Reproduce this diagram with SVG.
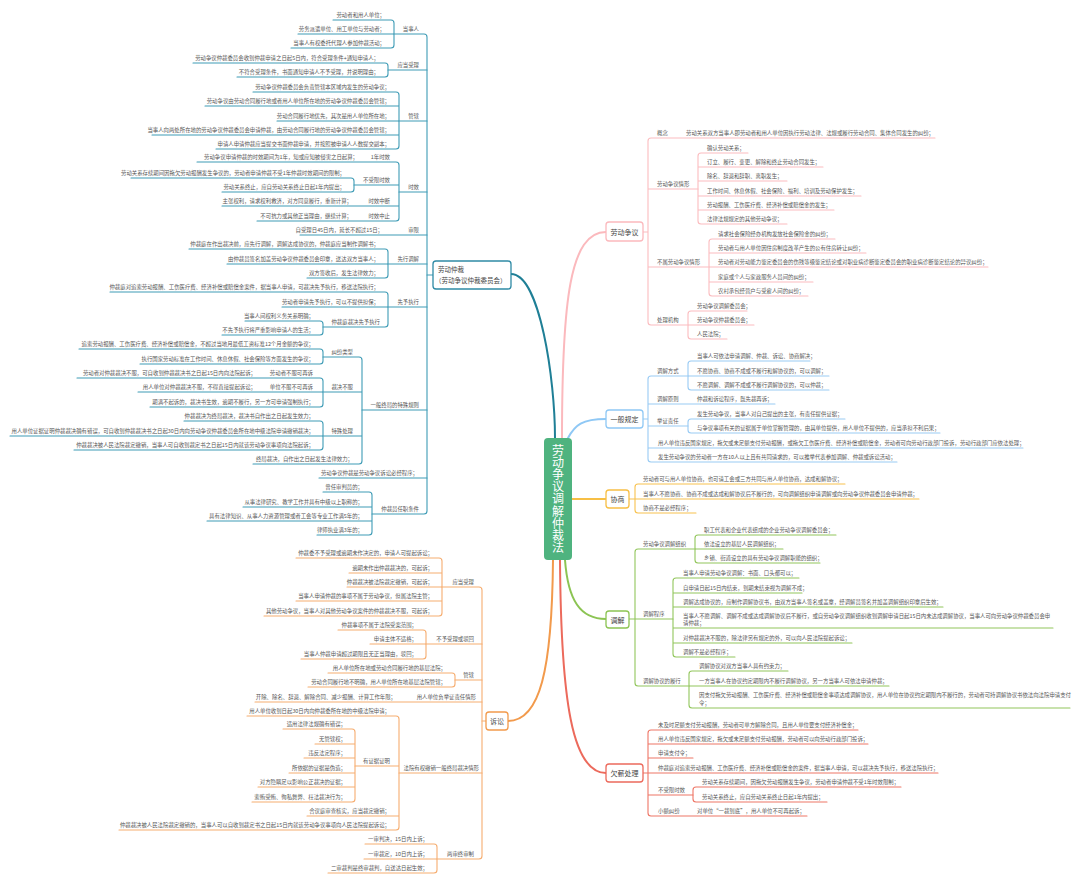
<svg xmlns="http://www.w3.org/2000/svg" width="1080" height="884" viewBox="0 0 1080 884">
<style>
text{font-family:"Noto Sans CJK SC","Noto Sans",sans-serif;fill:#555;font-size:5.4px}
.e{text-anchor:end}
.m{text-anchor:middle}
.k{font-size:7px;fill:#444}
.k2{font-size:6.5px;fill:#444}
.ct{font-size:12px;fill:#fff;letter-spacing:0.2px}
path{fill:none;stroke-width:1.1;stroke-linecap:round}
.main path{stroke-width:2}
.c1 path{stroke:#3f9cb6}
.c2 path{stroke:#f6ad70}
.p path{stroke:#fbbcbf}
.b path{stroke:#99cbf4}
.y path{stroke:#f8c24f}
.g path{stroke:#92c65c}
.r path{stroke:#ee7666}
.box{fill:#fff;stroke-width:1.3}
</style>
<rect width="1080" height="884" fill="#fff"/>

<g id="connectors">
 <g class="main">
  <path d="M555,438 C555,380 540,274 511,274" style="stroke:#1f7f96"/>
  <path d="M562,438 C562,300 570,232 606,232" style="stroke:#fbb9bd"/>
  <path d="M568,438 C575,425 582,419 606,419" style="stroke:#8fc8f5"/>
  <path d="M572,499 H606" style="stroke:#f7bf45"/>
  <path d="M565,560 C568,600 580,619 606,619" style="stroke:#8cc453"/>
  <path d="M560,560 C561,700 572,773 606,773" style="stroke:#ec6a5c"/>
  <path d="M553,560 C552,670 540,721 508,721" style="stroke:#f29a4c"/>
 </g>
 <g class="c1">
  <path d="M394,34 H424 Q427,34 427,37 V511 Q427,514 424,514 H372"/>
  <path d="M388,70 H427 M399,121 H427 M399,192 H427 M300,235 H427 M388,264 H427 M388,307 H427 M362,410 H427 M319,478 H427 M427,275 H433"/>
  <path d="M333,20 H391 Q394,20 394,23 V45 Q394,48 391,48 H291 M298,34 H394"/>
  <path d="M193,63 H385 Q388,63 388,66 V74 Q388,77 385,77 H237"/>
  <path d="M253,92 H396 Q399,92 399,95 V146 Q399,149 396,149 H216 M205,106 H399 M277,121 H399 M152,135 H399"/>
  <path d="M197,162 H396 Q399,162 399,165 V218 Q399,221 396,221 H257 M354,185 H399 M222,206 H399"/>
  <path d="M131,178 H351 Q354,178 354,181 V189 Q354,192 351,192 H222"/>
  <path d="M189,249 H385 Q388,249 388,252 V275 Q388,278 385,278 H307 M227,264 H388"/>
  <path d="M110,292 H385 Q388,292 388,295 V324 Q388,327 385,327 H323 M282,307 H388"/>
  <path d="M245,321 H320 Q323,321 323,324 V332 Q323,335 320,335 H222"/>
  <path d="M323,357 H359 Q362,357 362,360 V461 Q362,464 359,464 H253 M323,392 H362 M323,436 H362"/>
  <path d="M79,349 H320 Q323,349 323,352 V361 Q323,364 320,364 H140"/>
  <path d="M77,378 H320 Q323,378 323,381 V404 Q323,407 320,407 H150 M138,392 H323"/>
  <path d="M184,421 H320 Q323,421 323,424 V447 Q323,450 320,450 H74 M10,436 H323"/>
  <path d="M323,492 H369 Q372,492 372,495 V532 Q372,535 369,535 H317 M243,507 H372 M207,521 H372"/>
 </g>
 <g class="c2">
  <path d="M442,587 H479 Q482,587 482,590 V856 Q482,859 479,859 H437"/>
  <path d="M426,644 H482 M455,680 H482 M255,702 H482 M399,773 H482 M482,721 H486"/>
  <path d="M296,558 H439 Q442,558 442,561 V613 Q442,616 439,616 H264 M349,573 H442 M347,587 H442 M296,601 H442"/>
  <path d="M338,630 H423 Q426,630 426,633 V656 Q426,659 423,659 H301 M370,644 H426"/>
  <path d="M328,673 H452 Q455,673 455,676 V684 Q455,687 452,687 H308"/>
  <path d="M247,716 H396 Q399,716 399,719 V827 Q399,830 396,830 H119 M355,766 H399 M307,816 H399"/>
  <path d="M283,729 H352 Q355,729 355,732 V799 Q355,802 352,802 H252 M315,744 H355 M304,758 H355 M289,773 H355 M258,787 H355"/>
  <path d="M365,844 H434 Q437,844 437,847 V870 Q437,873 434,873 H328 M364,859 H437"/>
 </g>
 <g class="p">
  <path d="M935,138 H651 Q648,138 648,141 V322 Q648,325 651,325 H688 M648,189 H698 M648,267 H709 M643,232 H648"/>
  <path d="M748,153 H701 Q698,153 698,156 V221 Q698,224 701,224 H787 M698,167 H823 M698,181 H787 M698,196 H861 M698,210 H834"/>
  <path d="M835,239 H712 Q709,239 709,242 V293 Q709,296 712,296 H808 M709,253 H866 M709,267 H988 M709,282 H813"/>
  <path d="M747,311 H691 Q688,311 688,314 V336 Q688,339 691,339 H727 M688,325 H754"/>
 </g>
 <g class="b">
  <path d="M688,376 H651 Q648,376 648,379 V459 Q648,462 651,462 H897 M648,404 H775 M648,426 H688 M648,448 H1023 M643,419 H648"/>
  <path d="M810,361 H691 Q688,361 688,364 V387 Q688,390 691,390 H829 M688,376 H829"/>
  <path d="M845,419 H691 Q688,419 688,422 V430 Q688,433 691,433 H940"/>
 </g>
 <g class="y">
  <path d="M845,484 H638 Q635,484 635,487 V510 Q635,513 638,513 H696 M635,499 H919 M629,499 H635"/>
 </g>
 <g class="g">
  <path d="M695,549 H638 Q635,549 635,552 V683 Q635,686 638,686 H689 M635,619 H673 M629,619 H635"/>
  <path d="M836,535 H698 Q695,535 695,538 V560 Q695,563 698,563 H820 M695,549 H783"/>
  <path d="M799,578 H676 Q673,578 673,581 V654 Q673,657 676,657 H735 M673,593 H802 M673,607 H943 M673,628 H1053 M673,643 H852"/>
  <path d="M788,671 H692 Q689,671 689,674 V705 Q689,708 692,708 H1070 M689,686 H889"/>
 </g>
 <g class="r">
  <path d="M858,730 H651 Q648,730 648,733 V813 Q648,816 651,816 H807 M648,744 H868 M648,758 H693 M648,773 H938 M648,795 H693 M643,773 H648"/>
  <path d="M901,787 H696 Q693,787 693,790 V799 Q693,802 696,802 H827"/>
 </g>
</g>

<g id="n-root">
 <rect x="544" y="438" width="28" height="122" rx="4" fill="#4fb37f"/>
 <text class="ct" x="558" y="444" writing-mode="vertical-rl">劳动争议调解仲裁法</text>
</g>

<g id="n-zhongcai">
 <rect class="box" x="433" y="261" width="78" height="28" rx="3" stroke="#2f8aa5"/>
 <text class="k2" x="438" y="272">劳动仲裁</text>
 <text class="k2" x="435" y="283">（劳动争议仲裁委员会）</text>
 <text class="e" x="419" y="31">当事人</text>
 <text class="e" x="385" y="17">劳动者和用人单位；</text>
 <text class="e" x="385" y="31">劳务派遣单位、用工单位与劳动者；</text>
 <text class="e" x="385" y="45">当事人有权委托代理人参加仲裁活动；</text>
 <text class="e" x="419" y="67">应当受理</text>
 <text class="e" x="379" y="60">劳动争议仲裁委员会收到仲裁申请之日起5日内，符合受理条件+通知申请人；</text>
 <text class="e" x="379" y="74">不符合受理条件，书面通知申请人不予受理，并说明理由；</text>
 <text class="e" x="419" y="118">管辖</text>
 <text class="e" x="390" y="89">劳动争议仲裁委员会负责管辖本区域内发生的劳动争议；</text>
 <text class="e" x="390" y="103">劳动争议由劳动合同履行地或者用人单位所在地的劳动争议仲裁委员会管辖；</text>
 <text class="e" x="390" y="118">劳动合同履行地优先，其次是用人单位所在地；</text>
 <text class="e" x="390" y="132">当事人向两处所在地的劳动争议仲裁委员会申请仲裁，由劳动合同履行地的劳动争议仲裁委员会管辖；</text>
 <text class="e" x="390" y="146">申请人申请仲裁应当提交书面仲裁申请，并按照被申请人人数提交副本；</text>
 <text class="e" x="419" y="189">时效</text>
 <text class="e" x="390" y="159">1年时效</text>
 <text class="e" x="358" y="159">劳动争议申请仲裁的时效期间为1年，知或应知被侵害之日起算；</text>
 <text class="e" x="390" y="182">不受限时效</text>
 <text class="e" x="345" y="175">劳动关系存续期间因拖欠劳动报酬发生争议的，劳动者申请仲裁不受1年仲裁时效期间的限制；</text>
 <text class="e" x="345" y="189">劳动关系终止，应自劳动关系终止日起1年内提出；</text>
 <text class="e" x="390" y="203">时效中断</text>
 <text class="e" x="352" y="203">主张权利，请求权利救济，对方同意履行，重新计算；</text>
 <text class="e" x="390" y="218">时效中止</text>
 <text class="e" x="352" y="218">不可抗力或其他正当理由，继续计算；</text>
 <text class="e" x="419" y="232">审限</text>
 <text class="e" x="383" y="232">自受理日45日内，延长不超过15日；</text>
 <text class="e" x="419" y="261">先行调解</text>
 <text class="e" x="379" y="246">仲裁庭在作出裁决前，应先行调解，调解达成协议的，仲裁庭应当制作调解书；</text>
 <text class="e" x="379" y="261">由仲裁员签名加盖劳动争议仲裁委员会印章，送达双方当事人；</text>
 <text class="e" x="379" y="275">双方签收后，发生法律效力；</text>
 <text class="e" x="419" y="304">先予执行</text>
 <text class="e" x="379" y="289">仲裁庭对追索劳动报酬、工伤医疗费、经济补偿或赔偿金案件，据当事人申请，可裁决先予执行，移送法院执行；</text>
 <text class="e" x="379" y="304">劳动者申请先予执行，可以不提供担保；</text>
 <text class="e" x="380" y="324">仲裁庭裁决先予执行</text>
 <text class="e" x="314" y="318">当事人间权利义务关系明确；</text>
 <text class="e" x="314" y="332">不先予执行将严重影响申请人的生活；</text>
 <text class="e" x="419" y="407">一般终局的特殊规则</text>
 <text class="e" x="353" y="354">纠纷类型</text>
 <text class="e" x="314" y="346">追索劳动报酬、工伤医疗费、经济补偿或赔偿金，不超过当地月最低工资标准12个月金额的争议；</text>
 <text class="e" x="314" y="361">执行国家劳动标准在工作时间、休息休假、社会保险等方面发生的争议；</text>
 <text class="e" x="353" y="389">裁决不服</text>
 <text class="e" x="313" y="375">劳动者不服可再诉</text>
 <text class="e" x="256" y="375">劳动者对仲裁裁决不服，可自收到仲裁裁决书之日起15日内向法院起诉；</text>
 <text class="e" x="313" y="389">单位不服不可再诉</text>
 <text class="e" x="256" y="389">用人单位对仲裁裁决不服，不得直接提起诉讼；</text>
 <text class="e" x="314" y="404">期满不起诉的，裁决书生效，逾期不履行，另一方可申请强制执行；</text>
 <text class="e" x="353" y="433">特殊处理</text>
 <text class="e" x="314" y="418">仲裁裁决为终局裁决，裁决书自作出之日起发生效力；</text>
 <text class="e" x="314" y="433">用人单位证据证明仲裁裁决确有错误，可自收到仲裁裁决书之日起30日内向劳动争议仲裁委员会所在地中级法院申请撤销裁决；</text>
 <text class="e" x="314" y="447">仲裁裁决被人民法院裁定撤销，当事人可自收到裁定书之日起15日内就该劳动争议事项向法院起诉；</text>
 <text class="e" x="353" y="461">终局裁决，自作出之日起发生法律效力；</text>
 <text class="e" x="418" y="475">劳动争议仲裁是劳动争议诉讼必经程序；</text>
 <text class="e" x="419" y="511">仲裁员任职条件</text>
 <text class="e" x="363" y="489">曾任审判员的；</text>
 <text class="e" x="363" y="504">从事法律研究、教学工作并具有中级以上职称的；</text>
 <text class="e" x="363" y="518">具有法律知识、从事人力资源管理或者工会等专业工作满5年的；</text>
 <text class="e" x="363" y="532">律师执业满3年的；</text>
</g>

<g id="n-susong">
 <rect class="box" x="486" y="712" width="22" height="18" rx="3" stroke="#f29a4c"/>
 <text class="k m" x="497" y="724">诉讼</text>
 <text class="e" x="474" y="584">应当受理</text>
 <text class="e" x="433" y="555">仲裁委不予受理或逾期未作决定的，申请人可提起诉讼；</text>
 <text class="e" x="433" y="570">逾期未作出仲裁裁决的，可起诉；</text>
 <text class="e" x="433" y="584">仲裁裁决被法院裁定撤销，可起诉；</text>
 <text class="e" x="433" y="598">当事人申请仲裁的事项不属于劳动争议，但属法院主管；</text>
 <text class="e" x="433" y="613">其他劳动争议，当事人对其他劳动争议案件的仲裁裁决不服，可起诉；</text>
 <text class="e" x="474" y="641">不予受理或驳回</text>
 <text class="e" x="417" y="627">仲裁事项不属于法院受案范围；</text>
 <text class="e" x="417" y="641">申请主体不适格；</text>
 <text class="e" x="417" y="656">当事人仲裁申请超过期限且无正当理由，驳回；</text>
 <text class="e" x="474" y="677">管辖</text>
 <text class="e" x="446" y="670">用人单位所在地或劳动合同履行地的基层法院；</text>
 <text class="e" x="446" y="684">劳动合同履行地不明确，用人单位所在地基层法院管辖；</text>
 <text class="e" x="476" y="699">用人单位负举证责任情形</text>
 <text class="e" x="396" y="699">开除、除名、辞退、解除合同、减少报酬、计算工作年限；</text>
 <text class="e" x="479" y="770">法院有权撤销一般终局裁决情形</text>
 <text class="e" x="390" y="713">用人单位收到日起30日内向仲裁委所在地的中级法院申请；</text>
 <text class="e" x="390" y="763">有证据证明</text>
 <text class="e" x="346" y="726">适用法律法规确有错误；</text>
 <text class="e" x="346" y="741">无管辖权；</text>
 <text class="e" x="346" y="755">违反法定程序；</text>
 <text class="e" x="346" y="770">所依据的证据是伪造；</text>
 <text class="e" x="346" y="784">对方隐瞒足以影响公正裁决的证据；</text>
 <text class="e" x="346" y="799">索贿受贿、徇私舞弊、枉法裁决行为；</text>
 <text class="e" x="390" y="813">合议庭审查核实，应当裁定撤销；</text>
 <text class="e" x="390" y="827">仲裁裁决被人民法院裁定撤销的，当事人可以自收到裁定书之日起15日内就该劳动争议事项向人民法院提起诉讼；</text>
 <text class="e" x="474" y="856">两审终审制</text>
 <text class="e" x="428" y="841">一审判决，15日内上诉；</text>
 <text class="e" x="428" y="856">一审裁定，10日内上诉；</text>
 <text class="e" x="428" y="870">二审裁判是终审裁判，自送达日起生效；</text>
</g>

<g id="n-zhengyi">
 <rect class="box" x="606" y="222" width="37" height="19" rx="3" stroke="#fbb9bd"/>
 <text class="k m" x="624.5" y="234.5">劳动争议</text>
 <text x="657" y="135">概念</text>
 <text x="686" y="135">劳动关系双方当事人即劳动者和用人单位因执行劳动法律、法规或履行劳动合同、集体合同发生的纠纷；</text>
 <text x="657" y="186">劳动争议情形</text>
 <text x="707" y="150">确认劳动关系；</text>
 <text x="707" y="164">订立、履行、变更、解除和终止劳动合同发生；</text>
 <text x="707" y="178">除名、辞退和辞职、离职发生；</text>
 <text x="707" y="193">工作时间、休息休假、社会保险、福利、培训及劳动保护发生；</text>
 <text x="707" y="207">劳动报酬、工伤医疗费、经济补偿或赔偿金的发生；</text>
 <text x="707" y="221">法律法规规定的其他劳动争议；</text>
 <text x="657" y="264">不属劳动争议情形</text>
 <text x="718" y="236">请求社会保险经办机构发放社会保险金的纠纷；</text>
 <text x="718" y="250">劳动者与用人单位因住房制度改革产生的公有住房转让纠纷；</text>
 <text x="718" y="264">劳动者对劳动能力鉴定委员会的伤残等级鉴定结论或对职业病诊断鉴定委员会的职业病诊断鉴定结论的异议纠纷；</text>
 <text x="718" y="279">家庭或个人与家政服务人员间的纠纷；</text>
 <text x="718" y="293">农村承包经营户与受雇人间的纠纷；</text>
 <text x="657" y="322">处理机构</text>
 <text x="697" y="308">劳动争议调解委员会；</text>
 <text x="697" y="322">劳动争议仲裁委员会；</text>
 <text x="697" y="336">人民法院；</text>
</g>

<g id="n-guiding">
 <rect class="box" x="606" y="410" width="37" height="18" rx="3" stroke="#8fc8f5"/>
 <text class="k m" x="624.5" y="422">一般规定</text>
 <text x="657" y="373">调解方式</text>
 <text x="697" y="358">当事人可依法申请调解、仲裁、诉讼、协商解决；</text>
 <text x="697" y="373">不愿协商、协商不成或不履行和解协议的，可以调解；</text>
 <text x="697" y="387">不愿调解、调解不成或不履行调解协议的，可以仲裁；</text>
 <text x="657" y="401">调解原则</text>
 <text x="697" y="401">仲裁和诉讼程序，既先裁再诉；</text>
 <text x="657" y="423">举证责任</text>
 <text x="697" y="416">发生劳动争议，当事人对自己提出的主张，有责任提供证据；</text>
 <text x="697" y="430">与争议事项有关的证据属于单位掌握管理的，由其单位提供，用人单位不提供的，应当承担不利后果；</text>
 <text x="658" y="445">用人单位违反国家规定，拖欠或未足额支付劳动报酬，或拖欠工伤医疗费、经济补偿或赔偿金，劳动者可向劳动行政部门投诉，劳动行政部门应依法处理；</text>
 <text x="658" y="459">发生劳动争议的劳动者一方在10人以上且有共同请求的，可以推举代表参加调解、仲裁或诉讼活动；</text>
</g>

<g id="n-xieshang">
 <rect class="box" x="606" y="490" width="23" height="18" rx="3" stroke="#f7bf45"/>
 <text class="k m" x="617.5" y="502">协商</text>
 <text x="643" y="481">劳动者可与用人单位协商，也可请工会或三方共同与用人单位协商，达成和解协议；</text>
 <text x="643" y="496">当事人不愿协商、协商不成或达成和解协议后不履行的，可向调解组织申请调解或向劳动争议仲裁委员会申请仲裁；</text>
 <text x="643" y="510">协商不是必经程序；</text>
</g>

<g id="n-tiaojie">
 <rect class="box" x="606" y="611" width="23" height="17" rx="3" stroke="#8cc453"/>
 <text class="k m" x="617.5" y="622.5">调解</text>
 <text x="643" y="546">劳动争议调解组织</text>
 <text x="704" y="532">职工代表和企业代表组成的企业劳动争议调解委员会；</text>
 <text x="704" y="546">依法设立的基层人民调解组织；</text>
 <text x="704" y="560">乡镇、街道设立的具有劳动争议调解职能的组织；</text>
 <text x="643" y="616">调解程序</text>
 <text x="683" y="575">当事人申请劳动争议调解：书面、口头都可以；</text>
 <text x="683" y="590">自申请日起15日内结束，到期未结束视为调解不成；</text>
 <text x="683" y="604">调解达成协议的，应制作调解协议书，由双方当事人签名或盖章，经调解员签名并加盖调解组织印章后生效；</text>
 <text x="683" y="618">当事人不愿调解、调解不成或达成调解协议后不履行，或自劳动争议调解组织收到调解申请日起15日内未达成调解协议，当事人可向劳动争议仲裁委员会申</text>
 <text x="683" y="625">请仲裁；</text>
 <text x="683" y="640">对仲裁裁决不服的，除法律另有规定的外，可以向人民法院提起诉讼；</text>
 <text x="683" y="654">调解不是必经程序；</text>
 <text x="643" y="683">调解协议的履行</text>
 <text x="699" y="668">调解协议对双方当事人具有约束力；</text>
 <text x="699" y="683">一方当事人在协议约定期限内不履行调解协议，另一方当事人可依法申请仲裁；</text>
 <text x="699" y="697">因支付拖欠劳动报酬、工伤医疗费、经济补偿或赔偿金事项达成调解协议，用人单位在协议约定期限内不履行的，劳动者可持调解协议书依法向法院申请支付</text>
 <text x="699" y="705">令；</text>
</g>

<g id="n-qianxin">
 <rect class="box" x="606" y="764" width="37" height="18" rx="3" stroke="#ec6a5c"/>
 <text class="k m" x="624.5" y="776">欠薪处理</text>
 <text x="658" y="727">未及时足额支付劳动报酬，劳动者可单方解除合同，且用人单位要支付经济补偿金；</text>
 <text x="658" y="741">用人单位违反国家规定，拖欠或未足额支付劳动报酬，劳动者可以向劳动行政部门投诉；</text>
 <text x="658" y="755">申请支付令；</text>
 <text x="658" y="770">仲裁庭对追索劳动报酬、工伤医疗费、经济补偿或赔偿金的案件，据当事人申请，可以裁决先予执行，移送法院执行；</text>
 <text x="658" y="792">不受限时效</text>
 <text x="702" y="784">劳动关系存续期间，因拖欠劳动报酬发生争议，劳动者申请仲裁不受1年时效限制；</text>
 <text x="702" y="799">劳动关系终止，应自劳动关系终止日起1年内提出；</text>
 <text x="658" y="813">小额纠纷</text>
 <text x="697" y="813">对单位“一裁到底”，用人单位不可再起诉；</text>
</g>
</svg>
